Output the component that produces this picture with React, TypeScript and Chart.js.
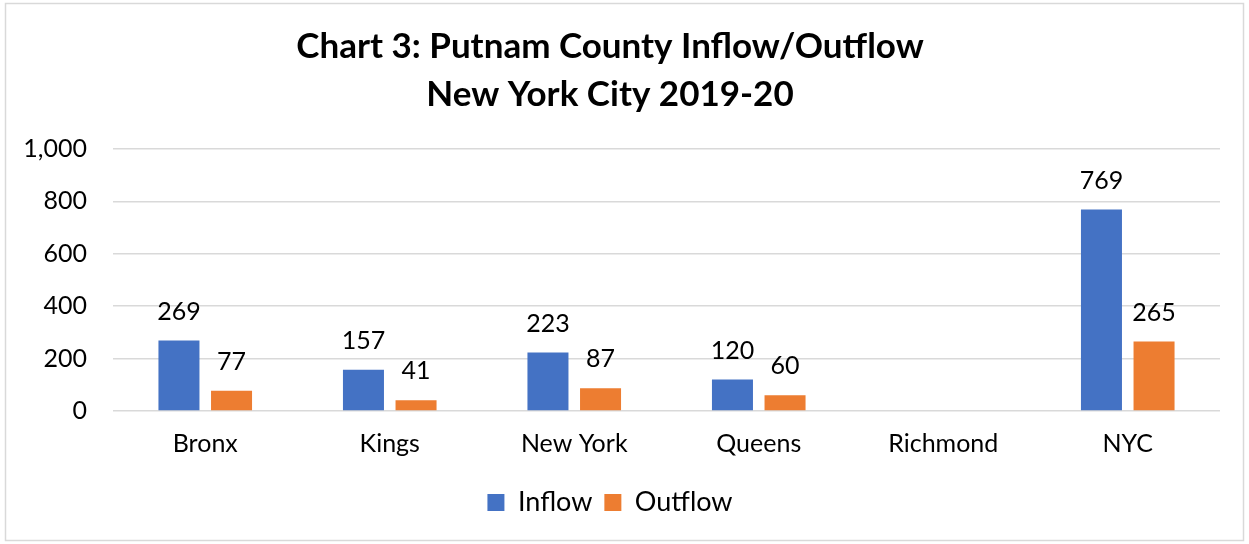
import React, { useEffect, useRef } from "react";
import { Chart, registerables } from "chart.js";

Chart.register(...registerables);

const categories = ["Bronx", "Kings", "New York", "Queens", "Richmond", "NYC"];
const inflow: (number | null)[] = [269, 157, 223, 120, null, 769];
const outflow: (number | null)[] = [77, 41, 87, 60, null, 265];
const titleLines = ["Chart 3: Putnam County Inflow/Outflow", "New York City 2019-20"];
const yTicks = [0, 200, 400, 600, 800, 1000];

const FONT = "Lato, 'Open Sans', 'DejaVu Sans', sans-serif";

const borderPlugin = {
  id: "outerBorder",
  beforeDraw(chart: any) {
    const ctx = chart.ctx;
    ctx.save();
    ctx.fillStyle = "#ffffff";
    ctx.fillRect(0, 0, chart.width, chart.height);
    ctx.strokeStyle = "#d9d9d9";
    ctx.lineWidth = 1.5;
    ctx.strokeRect(5.5, 3.5, chart.width - 11, chart.height - 7);
    ctx.restore();
  },
};

const labelPlugin = {
  id: "valueLabels",
  afterDatasetsDraw(chart: any) {
    const ctx = chart.ctx;
    ctx.save();
    ctx.font = `25px ${FONT}`;
    ctx.fillStyle = "#000";
    ctx.textAlign = "center";
    ctx.textBaseline = "middle";
    chart.data.datasets.forEach((ds: any, i: number) => {
      const meta = chart.getDatasetMeta(i);
      meta.data.forEach((bar: any, j: number) => {
        const v = ds.data[j];
        if (v === null || v === undefined) return;
        ctx.fillText(String(v), bar.x, bar.y - 29);
      });
    });
    ctx.restore();
  },
};

export default function App() {
  const ref = useRef<HTMLCanvasElement | null>(null);
  useEffect(() => {
    if (!ref.current) return;
    const chart = new Chart(ref.current, {
      type: "bar",
      data: {
        labels: categories,
        datasets: [
          { label: "Inflow", data: inflow, backgroundColor: "#4472C4", categoryPercentage: 0.57, barPercentage: 0.78 },
          { label: "Outflow", data: outflow, backgroundColor: "#ED7D31", categoryPercentage: 0.57, barPercentage: 0.78 },
        ],
      },
      options: {
        animation: false,
        responsive: false,
        maintainAspectRatio: false,
        layout: { padding: { left: 0, right: 29, top: 0, bottom: 18 } },
        plugins: {
          title: {
            display: true,
            text: titleLines,
            color: "#000",
            font: { family: FONT, size: 35, weight: "bold", lineHeight: 1.37 },
            padding: { top: 23, bottom: 30 },
          },
          legend: {
            position: "bottom",
            labels: {
              color: "#000",
              font: { family: FONT, size: 27 },
              boxWidth: 17,
              boxHeight: 17,
              padding: 12,
            },
          },
          tooltip: { enabled: false },
        },
        scales: {
          x: {
            grid: { display: false, drawTicks: false },
            border: { display: false },
            ticks: { color: "#000", font: { family: FONT, size: 25 }, padding: 18 },
          },
          y: {
            min: 0,
            max: 1000,
            afterBuildTicks(scale: any) {
              scale.ticks = yTicks.map((v) => ({ value: v }));
            },
            afterFit(scale: any) {
              scale.width = 113;
            },
            grid: { color: "#d9d9d9", lineWidth: 1.5, drawTicks: false },
            border: { display: false },
            ticks: {
              color: "#000",
              font: { family: FONT, size: 25 },
              padding: 26,
              callback: (v: any) => Number(v).toLocaleString("en-US"),
            },
          },
        },
      },
      plugins: [borderPlugin, labelPlugin],
    });
    return () => chart.destroy();
  }, []);
  return (
    <div style={{ position: "fixed", left: 0, top: 0, width: 1249, height: 544, background: "#fff" }}>
      <canvas ref={ref} width={1249} height={544} style={{ display: "block" }} />
    </div>
  );
}
